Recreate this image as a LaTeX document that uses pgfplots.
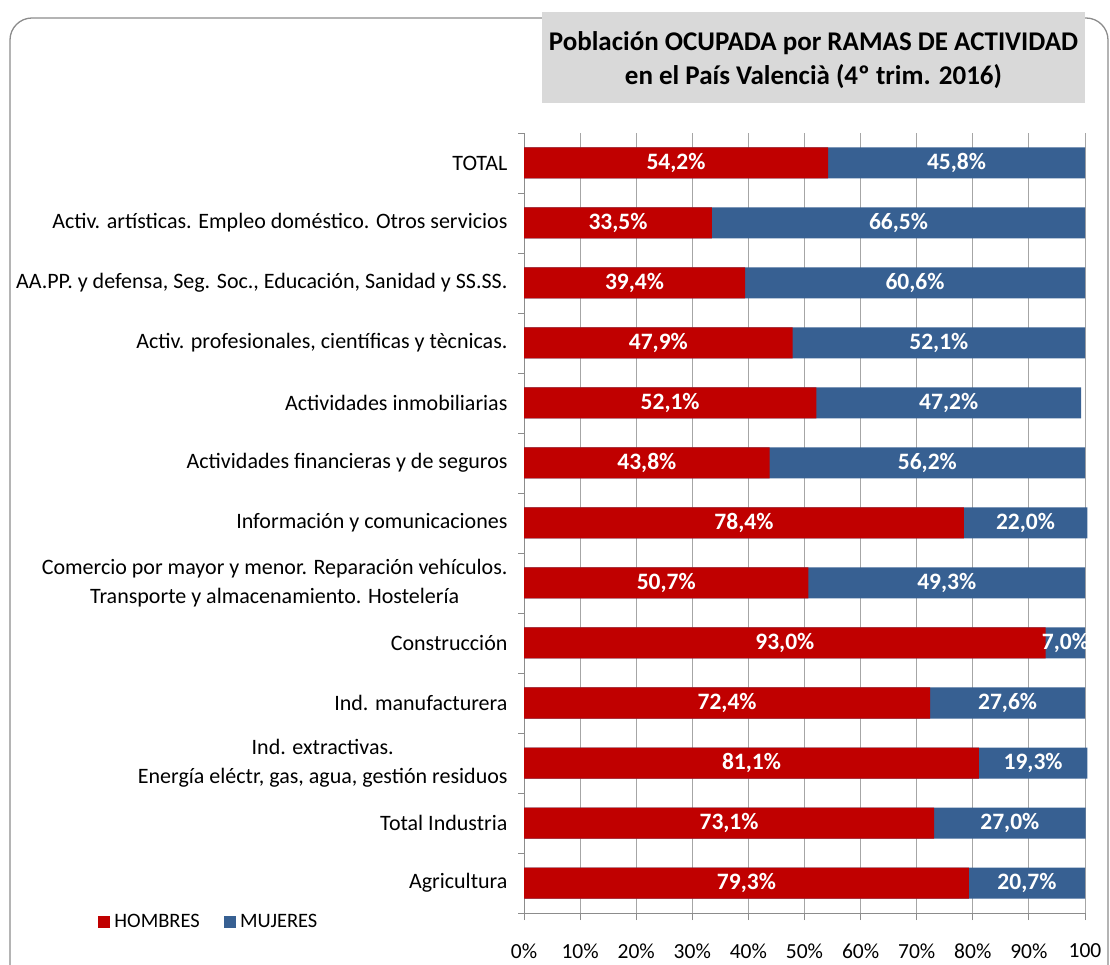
\documentclass[border=0pt]{standalone}
\usepackage{pgfplots}
\pgfplotsset{compat=1.18}
\usepackage{pgfplotstable}
\usepackage{fontspec}
\setmainfont{Carlito}
\definecolor{hred}{HTML}{C00000}
\definecolor{mblue}{HTML}{376092}
\definecolor{axgray}{HTML}{8C8C8C}
\definecolor{gridgray}{HTML}{A6A6A6}
\definecolor{titlegray}{HTML}{D9D9D9}

\pgfplotstableread{
y h m hl ml
12 54.2 45.8 54,2 45,8
11 33.5 66.5 33,5 66,5
10 39.4 60.6 39,4 60,6
9 47.9 52.1 47,9 52,1
8 52.1 47.2 52,1 47,2
7 43.8 56.2 43,8 56,2
6 78.4 22.0 78,4 22,0
5 50.7 49.3 50,7 49,3
4 93.0 7.0 93,0 7,0
3 72.4 27.6 72,4 27,6
2 81.1 19.3 81,1 19,3
1 73.1 27.0 73,1 27,0
0 79.3 20.7 79,3 20,7
}\datatable

\begin{document}
\begin{tikzpicture}[x=1pt,y=1pt]
\useasboundingbox (0,0) rectangle (1110,964);
\draw[axgray, line width=1.3pt, rounded corners=22pt] (10,-60) rectangle (1108,946);
\fill[titlegray] (542,861) rectangle (1085,952);
\node[font=\bfseries\fontsize{27}{34}\selectfont, align=center] at (813.5,904)
  {Población OCUPADA por RAMAS DE ACTIVIDAD\\en el País Valencià (4º trim. 2016)};
\begin{axis}[
  at={(524pt,51pt)}, anchor=south west,
  scale only axis, width=561pt, height=780pt,
  xmin=0, xmax=100, ymin=-0.5, ymax=12.5,
  axis x line*=bottom, axis y line*=left,
  axis line style={axgray, line width=0.9pt},
  tick align=outside,
  xtick={0,10,...,100},
  xticklabels={0\%,10\%,20\%,30\%,40\%,50\%,60\%,70\%,80\%,90\%,100},
  major tick length=7pt, minor tick length=6pt,
  tick style={axgray, line width=0.9pt},
  major y tick style={draw=none},
  ytick={0,...,12},
  minor ytick={-0.5,0.5,...,12.5},
  yticklabels={Agricultura, Total Industria,
    {Ind. extractivas.\\Energía eléctr, gas, agua, gestión residuos},
    Ind. manufacturera, Construcción,
    {Comercio por mayor y menor. Reparación vehículos.\\Transporte y almacenamiento. Hostelería},
    Información y comunicaciones, Actividades financieras y de seguros,
    Actividades inmobiliarias, {Activ. profesionales, científicas y tècnicas.},
    {AA.PP. y defensa, Seg. Soc., Educación, Sanidad y SS.SS.},
    Activ. artísticas. Empleo doméstico. Otros servicios, TOTAL},
  yticklabel style={font=\fontsize{22}{29}\selectfont, align=center, xshift=-6pt},
  xticklabel style={font=\fontsize{21.5}{25}\selectfont, yshift=-20pt},
  xmajorgrids, major grid style={gridgray, line width=0.9pt},
  clip=false,
  legend style={at={(axis description cs:-0.765,-0.0115)}, anchor=west, draw=none, fill=none,
    legend columns=2, font=\fontsize{20.5}{24}\selectfont,
    /tikz/every even column/.append style={column sep=22pt}},
  legend cell align=left,
]
\addplot[xbar, bar width=31pt, bar shift=0pt, fill=mblue, draw=none, forget plot]
  table[x expr=\thisrow{h}+\thisrow{m}, y=y] {\datatable};
\addplot[xbar, bar width=31pt, bar shift=0pt, fill=hred, draw=none, forget plot]
  table[x=h, y=y] {\datatable};
\addplot[draw=none, mark=none, forget plot, nodes near coords={\pgfplotspointmeta\%},
  point meta=explicit symbolic,
  every node near coord/.append style={anchor=center, text=white, font=\bfseries\fontsize{23.5}{26}\selectfont}]
  table[x expr=\thisrow{h}/2, y=y, meta=hl] {\datatable};
\addplot[draw=none, mark=none, forget plot, nodes near coords={\pgfplotspointmeta\%},
  point meta=explicit symbolic,
  every node near coord/.append style={anchor=center, text=white, font=\bfseries\fontsize{23.5}{26}\selectfont}]
  table[x expr=\thisrow{h}+\thisrow{m}/2, y=y, meta=ml] {\datatable};
\addlegendimage{legend image code/.code={\fill[hred] (0pt,-5.5pt) rectangle (11pt,5.5pt); \path (14pt,0pt);}}
\addlegendentry{HOMBRES}
\addlegendimage{legend image code/.code={\fill[mblue] (0pt,-5.5pt) rectangle (11pt,5.5pt); \path (14pt,0pt);}}
\addlegendentry{MUJERES}
\end{axis}
\end{tikzpicture}
\end{document}
